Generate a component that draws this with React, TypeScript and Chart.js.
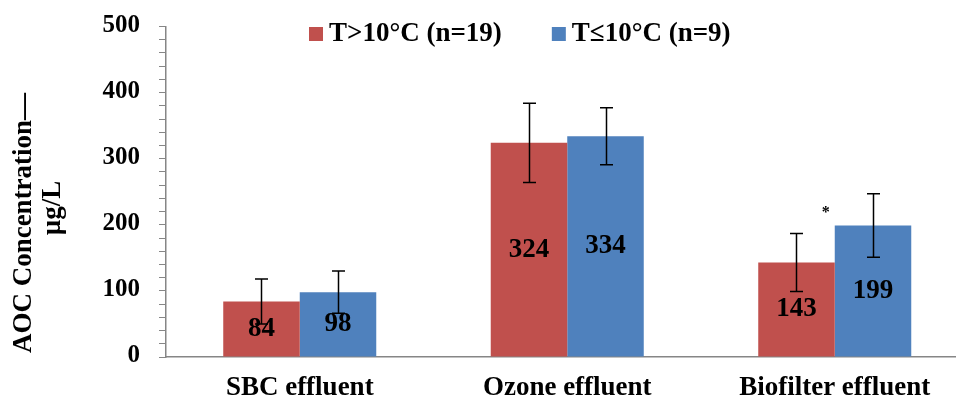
import React, { useEffect, useRef } from 'react';
import { Chart, registerables } from 'chart.js';

Chart.register(...registerables);

const categories = ['SBC effluent', 'Ozone effluent', 'Biofilter effluent'];
const seriesLabels = ['T>10°C (n=19)', 'T≤10°C (n=9)'];
const warmValues = [84, 324, 143];
const coldValues = [98, 334, 199];
const warmErrors = [34, 60, 44];
const coldErrors = [32, 43, 48];
const significance = ['', '', '*'];
const yTickLabels = [0, 100, 200, 300, 400, 500];
const yTitleLines = ['AOC Concentration—', 'µg/L'];
const seriesColors = ['#C0504D', '#4F81BD'];

const FONT = '"Liberation Serif", "Times New Roman", serif';
const AXIS_COLOR = '#868686';

// Desired plot area (pixels in the canvas)
const AREA = { left: 166, right: 968.5, top: 26.5, bottom: 357 };

const overlayPlugin = {
  id: 'overlay',
  afterDatasetsDraw(chart: any) {
    const ctx = chart.ctx;
    const yScale = chart.scales.y;
    const errs = [warmErrors, coldErrors];
    ctx.save();
    // error bars
    ctx.strokeStyle = '#000';
    ctx.lineWidth = 1.5;
    chart.data.datasets.forEach((ds: any, di: number) => {
      const meta = chart.getDatasetMeta(di);
      meta.data.forEach((bar: any, i: number) => {
        const v = ds.data[i];
        const e = errs[di][i];
        const x = Math.round(bar.x) + 0.5;
        const yTop = yScale.getPixelForValue(v + e);
        const yBot = yScale.getPixelForValue(v - e);
        ctx.beginPath();
        ctx.moveTo(x, yTop);
        ctx.lineTo(x, yBot);
        ctx.moveTo(x - 6.5, yTop);
        ctx.lineTo(x + 6.5, yTop);
        ctx.moveTo(x - 6.5, yBot);
        ctx.lineTo(x + 6.5, yBot);
        ctx.stroke();
      });
    });
    // value labels
    ctx.fillStyle = '#000';
    ctx.font = `bold 27px ${FONT}`;
    ctx.textAlign = 'center';
    ctx.textBaseline = 'middle';
    chart.data.datasets.forEach((ds: any, di: number) => {
      const meta = chart.getDatasetMeta(di);
      meta.data.forEach((bar: any, i: number) => {
        ctx.fillText(String(ds.data[i]), bar.x, (bar.y + bar.base) / 2);
      });
    });
    // significance markers
    const coldMeta = chart.getDatasetMeta(1);
    ctx.font = `bold 16px ${FONT}`;
    significance.forEach((s, i) => {
      if (!s) return;
      const cb = coldMeta.data[i];
      const x = cb.x - cb.width / 2 - 9;
      const y = yScale.getPixelForValue(warmValues[i] + warmErrors[i]) - 21;
      ctx.fillText(s, x, y);
    });
    ctx.restore();
  },
  afterDraw(chart: any) {
    const ctx = chart.ctx;
    ctx.save();
    // legend
    ctx.font = `bold 27px ${FONT}`;
    ctx.textBaseline = 'middle';
    ctx.textAlign = 'left';
    let x = 309;
    const cy = 34;
    seriesLabels.forEach((label, i) => {
      ctx.fillStyle = seriesColors[i];
      ctx.fillRect(x, cy - 7, 14, 14);
      ctx.fillStyle = '#000';
      ctx.fillText(label, x + 20, cy);
      x += 20 + ctx.measureText(label).width + 50;
    });
    // y axis title
    const titlePos = [
      { bx: 31, cy: 223 },
      { bx: 60, cy: 208 },
    ];
    ctx.font = `bold 27px ${FONT}`;
    ctx.textAlign = 'center';
    ctx.textBaseline = 'alphabetic';
    yTitleLines.forEach((line, i) => {
      ctx.save();
      ctx.translate(titlePos[i].bx, titlePos[i].cy);
      ctx.rotate(-Math.PI / 2);
      ctx.fillText(line, 0, 0);
      ctx.restore();
    });
    ctx.restore();
  },
};

export default function App() {
  const canvasRef = useRef<HTMLCanvasElement | null>(null);

  useEffect(() => {
    const canvas = canvasRef.current;
    if (!canvas) return;
    const W = 980;
    const H = 400;
    const chart = new Chart(canvas, {
      type: 'bar',
      data: {
        labels: categories,
        datasets: [
          {
            label: seriesLabels[0],
            data: warmValues,
            backgroundColor: seriesColors[0],
            borderWidth: 0,
            categoryPercentage: 0.572,
            barPercentage: 1,
          },
          {
            label: seriesLabels[1],
            data: coldValues,
            backgroundColor: seriesColors[1],
            borderWidth: 0,
            categoryPercentage: 0.572,
            barPercentage: 1,
          },
        ],
      },
      options: {
        responsive: false,
        animation: false,
        devicePixelRatio: 1,
        layout: { padding: { left: 0, right: W - AREA.right, top: AREA.top, bottom: 0 } },
        plugins: {
          legend: { display: false },
          title: { display: false },
          tooltip: { enabled: false },
        },
        scales: {
          x: {
            grid: { display: false, drawTicks: false, tickLength: 0 },
            border: { color: AXIS_COLOR, width: 1.5 },
            ticks: {
              color: '#000',
              font: { family: FONT, size: 27, weight: 'bold' },
              padding: 15,
              maxRotation: 0,
              autoSkip: false,
            },
            afterFit: (s: any) => {
              s.height = H - AREA.bottom;
            },
          },
          y: {
            min: 0,
            max: 500,
            ticks: {
              stepSize: 20,
              autoSkip: false,
              color: '#000',
              font: { family: FONT, size: 25, weight: 'bold' },
              padding: 19,
              labelOffset: -1,
              callback: (v: any) => (yTickLabels.includes(Number(v)) ? String(v) : ''),
            },
            grid: {
              drawOnChartArea: false,
              drawTicks: true,
              tickLength: 7,
              color: AXIS_COLOR,
              lineWidth: 1,
            },
            border: { color: AXIS_COLOR, width: 1.5 },
            afterFit: (s: any) => {
              s.width = AREA.left;
            },
          },
        },
      },
      plugins: [
        {
          id: 'forceArea',
          afterLayout(c: any) {
            // pin the plot area to the reference geometry
            const ca = c.chartArea;
            if (Math.abs(ca.top - AREA.top) > 0.01 || Math.abs(ca.bottom - AREA.bottom) > 0.01) {
              const y = c.scales.y;
              y.top = AREA.top;
              y.bottom = AREA.bottom;
              y.height = AREA.bottom - AREA.top;
              ca.top = AREA.top;
              ca.bottom = AREA.bottom;
              ca.height = AREA.bottom - AREA.top;
              const x = c.scales.x;
              x.top = AREA.bottom;
              x.bottom = H;
              x.height = H - AREA.bottom;
              y.configure();
              x.configure();
            }
          },
        },
        overlayPlugin,
      ],
    } as any);
    return () => chart.destroy();
  }, []);

  return (
    <div
      style={{
        position: 'absolute',
        left: 0,
        top: 0,
        width: 956,
        height: 400,
        overflow: 'hidden',
        background: '#fff',
      }}
    >
      <canvas ref={canvasRef} width={980} height={400} style={{ display: 'block', width: 980, height: 400 }} />
    </div>
  );
}
